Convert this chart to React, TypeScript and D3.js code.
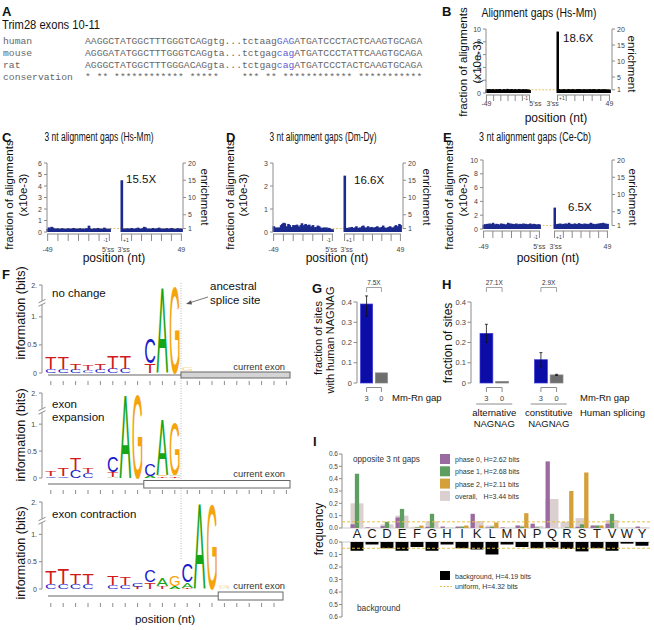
import React, { useEffect, useRef } from 'react';
import * as d3 from 'd3';

const SANS = 'Liberation Sans, Arial, Helvetica, sans-serif';
const MONO = 'Liberation Mono, DejaVu Sans Mono, monospace';

// ---- A: Trim28 exons 10-11 alignment
const species = ['human', 'mouse', 'rat', 'conservation'];
const seqHead = [
  'AAGGCTATGGCTTTGGGTCAGgtg...tctaag',
  'AGGGATATGGCTTTGGGTCAGgta...tctgag',
  'AGGGCTATGGCTTTGGGACAGgta...tctgag',
  '* ** ************ *****    *** **',
];
const seqSite = ['GAG', 'cag', 'cag', ' **'];
const seqTail = [
  'ATGATCCCTACTCAAGTGCAGA',
  'ATGATCCCTATTCAAGTGCAGA',
  'ATGATCCCTACTCAAGTGCAGA',
  '********** ***********',
];

// ---- B-E: gap fraction by position (-49..-1 then +1..+49), x10e-3
const hsMmLeft = [0.55, 0.6, 0.5, 0.62, 0.58, 0.5, 0.55, 0.6, 0.52, 0.48, 0.56, 0.6, 0.5, 0.54, 0.58, 0.62, 0.5, 0.46, 0.55, 0.6, 0.58, 0.52, 0.5, 0.64, 0.6, 0.55, 0.5, 0.58, 0.62, 0.52, 0.5, 0.56, 0.6, 0.54, 0.48, 0.55, 0.6, 0.58, 0.5, 0.52, 0.56, 0.6, 0.54, 0.5, 0.58, 0.55, 0.5, 0.52, 0.48];
const hsMmRight = [9.6, 0.6, 0.55, 0.5, 0.58, 0.52, 0.6, 0.55, 0.5, 0.56, 0.62, 0.54, 0.5, 0.58, 0.6, 0.52, 0.55, 0.5, 0.6, 0.56, 0.62, 0.58, 0.5, 0.54, 0.6, 0.55, 0.52, 0.58, 0.5, 0.56, 0.6, 0.54, 0.5, 0.62, 0.58, 0.55, 0.5, 0.56, 0.6, 0.52, 0.54, 0.58, 0.5, 0.6, 0.55, 0.52, 0.56, 0.5, 0.54];
const hsMm3Left = [0.28, 0.4, 0.3, 0.45, 0.38, 0.3, 0.25, 0.32, 0.28, 0.3, 0.26, 0.33, 0.3, 0.28, 0.25, 0.3, 0.32, 0.27, 0.3, 0.28, 0.35, 0.3, 0.26, 0.3, 0.28, 0.32, 0.3, 0.25, 0.3, 0.27, 0.33, 0.3, 0.55, 0.3, 0.28, 0.26, 0.32, 0.3, 0.28, 0.35, 0.3, 0.26, 0.3, 0.28, 0.38, 0.3, 0.27, 0.25, 0.3];
const hsMm3Right = [4.5, 0.28, 0.3, 0.25, 0.32, 0.3, 0.28, 0.3, 0.35, 0.3, 0.27, 0.3, 0.32, 0.38, 0.3, 0.28, 0.3, 0.33, 0.45, 0.4, 0.3, 0.28, 0.3, 0.26, 0.3, 0.35, 0.3, 0.28, 0.3, 0.32, 0.38, 0.3, 0.28, 0.3, 0.26, 0.3, 0.33, 0.3, 0.28, 0.3, 0.35, 0.3, 0.28, 0.25, 0.3, 0.32, 0.3, 0.28, 0.3];
const dmDy3Left = [0.25, 0.2, 0.15, 0.2, 0.18, 0.2, 0.3, 0.35, 0.4, 0.38, 0.2, 0.25, 0.35, 0.3, 0.2, 0.22, 0.3, 0.28, 0.3, 0.32, 0.25, 0.2, 0.3, 0.38, 0.25, 0.3, 0.35, 0.2, 0.3, 0.32, 0.2, 0.25, 0.3, 0.15, 0.22, 0.2, 0.28, 0.25, 0.2, 0.15, 0.18, 0.2, 0.15, 0.2, 0.12, 0.18, 0.15, 0.1, 0.12];
const dmDy3Right = [2.45, 0.15, 0.18, 0.12, 0.2, 0.15, 0.22, 0.18, 0.15, 0.2, 0.25, 0.18, 0.15, 0.2, 0.12, 0.25, 0.28, 0.2, 0.15, 0.2, 0.25, 0.2, 0.18, 0.22, 0.15, 0.2, 0.18, 0.22, 0.25, 0.2, 0.15, 0.2, 0.22, 0.28, 0.2, 0.18, 0.15, 0.2, 0.22, 0.25, 0.2, 0.18, 0.2, 0.25, 0.3, 0.22, 0.25, 0.35, 0.3];
const ceCb3Left = [0.6, 0.7, 0.6, 0.75, 0.7, 0.8, 0.65, 0.75, 0.9, 0.7, 0.6, 0.75, 0.7, 0.65, 0.6, 0.8, 0.7, 0.75, 0.65, 0.6, 0.7, 0.9, 0.75, 0.8, 0.7, 0.75, 0.65, 0.7, 0.8, 0.7, 0.6, 0.75, 0.7, 0.65, 0.8, 0.7, 0.75, 0.6, 0.7, 0.65, 0.8, 0.7, 0.6, 0.75, 0.7, 0.65, 0.6, 0.7, 0.65];
const ceCb3Right = [3.1, 0.7, 0.65, 0.75, 0.7, 0.8, 0.7, 0.65, 0.75, 0.7, 0.8, 0.75, 0.7, 0.9, 0.7, 0.75, 0.65, 0.7, 0.8, 0.75, 0.7, 0.65, 0.85, 0.7, 0.75, 0.7, 0.65, 0.8, 0.7, 0.75, 0.7, 0.65, 0.8, 0.9, 0.7, 0.75, 0.7, 0.65, 0.75, 0.7, 0.8, 0.75, 0.85, 0.7, 0.9, 0.75, 0.8, 0.7, 0.75];

// ---- F: sequence logos, one stack per column (bottom -> top), starting at column -11
const noChangeLogo: [string, number][][] = [
  [['C', 0.07], ['T', 0.22]], [['C', 0.07], ['T', 0.2]], [['C', 0.06], ['T', 0.12]], [['C', 0.05], ['T', 0.1]],
  [['C', 0.06], ['T', 0.11]], [['C', 0.08], ['T', 0.23]], [['C', 0.08], ['T', 0.24]], [],
  [['T', 0.17], ['C', 0.45]], [['A', 1.97]], [['G', 2]], [['A', 0.03], ['G', 0.06]],
];
const expansionLogo: [string, number][][] = [
  [['C', 0.03], ['T', 0.1]], [['C', 0.03], ['T', 0.14]], [['C', 0.14], ['T', 0.22]], [['C', 0.1], ['T', 0.09]],
  [], [['A', 0.02], ['T', 0.1], ['C', 0.3]], [['A', 2]], [['G', 1.97]],
  [['A', 0.04], ['C', 0.22]], [['T', 0.03], ['G', 0.02], ['A', 1.05]], [['T', 0.03], ['A', 0.02], ['G', 0.98]],
];
const contractionLogo: [string, number][][] = [
  [['C', 0.1], ['T', 0.25]], [['C', 0.1], ['T', 0.3]], [['C', 0.09], ['T', 0.2]], [['C', 0.09], ['T', 0.18]],
  [], [['C', 0.08], ['T', 0.17]], [['C', 0.07], ['T', 0.14]], [['T', 0.04], ['C', 0.06]],
  [['T', 0.12], ['C', 0.22]], [['T', 0.05], ['A', 0.14]], [['A', 0.05], ['G', 0.18]],
  [['T', 0.02], ['A', 0.1], ['C', 0.35]], [['A', 2]], [['G', 2]], [['A', 0.02], ['G', 0.05]],
];

// ---- G, H: fraction of sites with human NAGNAG
const mmRnGap = ['3', '0'];
const nagnagAll = [0.39, 0.05];
const nagnagAllErr = [[0.33, 0.43], null];
const splicingTypes = ['alternative', 'constitutive'];
const nagnagAlt = [0.245, 0.008];
const nagnagAltErr = [[0.2, 0.29], null];
const nagnagConst = [0.115, 0.04];
const nagnagConstErr = [[0.08, 0.15], [0.037, 0.043]];
const foldG = ['7.5X'];
const foldH = ['27.1X', '2.9X'];

// ---- I: amino acid frequencies opposite 3 nt gaps
const aminoAcids = ['A', 'C', 'D', 'E', 'F', 'G', 'H', 'I', 'K', 'L', 'M', 'N', 'P', 'Q', 'R', 'S', 'T', 'V', 'W', 'Y'];
const phase0 = [0.03, 0.005, 0.015, 0.085, 0, 0.01, 0.012, 0.01, 0.115, 0.005, 0.005, 0.02, 0.035, 0.54, 0, 0.01, 0.02, 0.035, 0, 0.012];
const phase1 = [0.44, 0, 0.05, 0.155, 0.005, 0.115, 0, 0.01, 0, 0.01, 0, 0.01, 0.005, 0, 0.005, 0.03, 0.02, 0.115, 0, 0];
const phase2 = [0, 0, 0, 0, 0.02, 0, 0, 0.02, 0.02, 0.045, 0, 0.12, 0, 0, 0.3, 0.45, 0.02, 0, 0, 0];
const overall = [0.2, 0.005, 0.03, 0.1, 0.01, 0.055, 0.005, 0.015, 0.055, 0.02, 0.003, 0.02, 0.015, 0.235, 0.05, 0.08, 0.02, 0.065, 0.002, 0.005];
const background = [0.07, 0.02, 0.05, 0.07, 0.04, 0.07, 0.02, 0.05, 0.06, 0.1, 0.02, 0.04, 0.05, 0.045, 0.055, 0.075, 0.05, 0.07, 0.013, 0.03];
const uniformFreq = 0.05;
const phaseLegend = ['phase 0, H=2.62 bits', 'phase 1, H=2.68 bits', 'phase 2, H=2.11 bits', 'overall,   H=3.44 bits'];

const AX = '#8c8c8c';
const TICK = '#444';

function txt(g: any, x: number, y: number, s: string, size: number, o: any = {}) {
  const t = g.append('text')
    .attr('x', x).attr('y', y)
    .attr('font-family', o.mono ? MONO : SANS)
    .attr('font-size', size)
    .attr('fill', o.fill || '#111')
    .attr('text-anchor', o.anchor || 'start')
    .style('white-space', 'pre')
    .text(s);
  if (o.bold) t.attr('font-weight', 'bold');
  if (o.w) t.attr('textLength', o.w).attr('lengthAdjust', 'spacingAndGlyphs');
  if (o.rot) t.attr('transform', `rotate(${o.rot},${x},${y})`).attr('dominant-baseline', 'central');
  return t;
}

function line(g: any, x1: number, y1: number, x2: number, y2: number, stroke = AX, w = 1) {
  return g.append('line').attr('x1', x1).attr('y1', y1).attr('x2', x2).attr('y2', y2)
    .attr('stroke', stroke).attr('stroke-width', w);
}

function drawA(svg: any) {
  txt(svg, 2, 16, 'A', 13, { bold: true });
  txt(svg, 2, 29, 'Trim28 exons 10-11', 12, { w: 98 });
  species.forEach((sp, i) => {
    const yy = 44 + i * 12;
    txt(svg, 3, yy, sp, 9.7, { mono: true, fill: '#666' });
    const t = txt(svg, 85, yy, '', 9.7, { mono: true, fill: '#666' });
    t.append('tspan').text(seqHead[i]);
    t.append('tspan').attr('fill', i < 3 ? '#5b5bd6' : '#666').text(seqSite[i]);
    t.append('tspan').text(seqTail[i]);
  });
}

// layout of the four gap panels
const gapLayouts = [
  { ax: 486, rx: 612, xl: [486, 530], xr: [557, 610], y0: 93, yTop: 29, ymax: 10, ticks: [0, 2, 4, 6, 8, 10], base: 0.5, color: '#000',
    title: 'Alignment gaps (Hs-Mm)', titleX: 539, titleY: 17, titleW: 115, letter: 'B', lx: 442, ly: 16,
    spike: '18.6X', sx: 563, sy: 42, ylx: [463, 477], yly: 62, enx: 632, axisY: 95, tickLen: 6, labY: 106, tinyY: 100, ss: 12, posX: 556, posY: 122 },
  { ax: 47, rx: 183, xl: [47, 110], xr: [121, 182], y0: 232, yTop: 163, ymax: 6, ticks: [0, 1, 2, 3, 4, 5, 6], base: 0.3, color: '#1b2a8c',
    title: '3 nt alignment gaps (Hs-Mm)', titleX: 99, titleY: 141, titleW: 109, letter: 'C', lx: 2, ly: 142,
    spike: '15.5X', sx: 126, sy: 183, ylx: [9, 23], yly: 195, enx: 205, axisY: 234, tickLen: 7, labY: 252, tinyY: 242, ss: 5, posX: 114, posY: 262 },
  { ax: 273, rx: 403, xl: [273, 333], xr: [344, 401], y0: 232, yTop: 163, ymax: 3, ticks: [0, 1, 2, 3], base: 0.15, color: '#1b2a8c',
    title: '3 nt alignment gaps (Dm-Dy)', titleX: 323, titleY: 141, titleW: 107, letter: 'D', lx: 226, ly: 142,
    spike: '16.6X', sx: 354, sy: 184, ylx: [230, 243], yly: 195, enx: 427, axisY: 234, tickLen: 7, labY: 252, tinyY: 242, ss: 5, posX: 337, posY: 262 },
  { ax: 483, rx: 612, xl: [483, 540], xr: [554, 608], y0: 229, yTop: 160, ymax: 10, ticks: [0, 2, 4, 6, 8, 10], base: 0.5, color: '#1b2a8c',
    title: '3 nt alignment gaps (Ce-Cb)', titleX: 535, titleY: 141, titleW: 112, letter: 'E', lx: 443, ly: 142,
    spike: '6.5X', sx: 568, sy: 211, ylx: [449, 463], yly: 195, enx: 633, axisY: 231, tickLen: 7, labY: 249, tinyY: 239, ss: 6, posX: 548, posY: 262 },
];

function drawGap(svg: any, c: any, left: number[], right: number[]) {
  const g = svg.append('g');
  const y = d3.scaleLinear().domain([0, c.ymax]).range([c.y0, c.yTop]);
  const xl = d3.scaleBand<number>().domain(d3.range(-49, 0)).range(c.xl);
  const xr = d3.scaleBand<number>().domain(d3.range(1, 50)).range(c.xr);
  const mid = (s: any, p: number) => s(p) + s.bandwidth() / 2;

  // enrichment = 1 level
  line(g, c.xl[0], y(c.base), c.xr[1], y(c.base), '#eac26a', 1).attr('stroke-dasharray', '2,1.5');

  // bars are drawn a little wider than their slot, as in the printed figure
  const bars = left.map((v, i) => ({ x: xl(-49 + i), w: xl.bandwidth(), v }))
    .concat(right.map((v, i) => ({ x: xr(i + 1), w: xr.bandwidth(), v })));
  g.selectAll(null).data(bars).enter().append('rect')
    .attr('x', (d: any) => d.x - 0.5).attr('y', (d: any) => y(d.v))
    .attr('width', (d: any) => d.w + 1.4).attr('height', (d: any) => c.y0 - y(d.v))
    .attr('fill', c.color);

  // left axis
  line(g, c.ax, y(0), c.ax, y(c.ymax));
  c.ticks.forEach((t: number) => {
    line(g, c.ax - 3, y(t), c.ax, y(t));
    txt(g, c.ax - 5, y(t) + 2.5, String(t), 7, { anchor: 'end', fill: TICK });
  });
  // right axis (enrichment)
  const ye = (e: number) => y(e * c.base);
  line(g, c.rx, ye(1), c.rx, ye(20));
  [1, 5, 10, 15, 20].forEach((e) => {
    line(g, c.rx, ye(e), c.rx + 3, ye(e));
    txt(g, c.rx + 5, ye(e) + 2.5, String(e), 7, { fill: TICK });
  });
  // position axes
  line(g, c.xl[0], c.axisY, c.xl[1], c.axisY);
  line(g, c.xr[0], c.axisY, c.xr[1], c.axisY);
  [-49, -41, -33, -25, -17, -9, -1].forEach((p) => line(g, mid(xl, p), c.axisY, mid(xl, p), c.axisY + c.tickLen));
  [1, 9, 17, 25, 33, 41, 49].forEach((p) => line(g, mid(xr, p), c.axisY, mid(xr, p), c.axisY + c.tickLen));
  txt(g, mid(xl, -49), c.labY, '-49', 7, { anchor: 'middle', fill: TICK });
  txt(g, mid(xr, 49), c.labY, '49', 7, { anchor: 'middle', fill: TICK });
  txt(g, mid(xl, -1) + c.ss, c.labY, "5'ss", 7, { anchor: 'end', fill: TICK });
  txt(g, mid(xr, 1) - c.ss + 1, c.labY, "3'ss", 7, { fill: TICK });
  txt(g, mid(xl, -1) - 1.5, c.tinyY, '-1', 5, { anchor: 'end', fill: TICK });
  txt(g, mid(xr, 1) + 1.5, c.tinyY, '+1', 5, { fill: TICK });

  txt(g, c.posX, c.posY, 'position (nt)', 12, { anchor: 'middle' });
  txt(g, c.ylx[0], c.yly, 'fraction of alignments', 11.5, { anchor: 'middle', rot: -90 });
  txt(g, c.ylx[1], c.yly, '(x10e-3)', 11.5, { anchor: 'middle', rot: -90 });
  txt(g, c.enx, c.yly + 2, 'enrichment', 11.5, { anchor: 'middle', rot: 90 });
  txt(g, c.titleX, c.titleY, c.title, 12, { anchor: 'middle', w: c.titleW });
  txt(g, c.lx, c.ly, c.letter, 13, { bold: true });
  txt(g, c.sx, c.sy, c.spike, 11.5);
}

// ---- F
const baseColor: any = { A: '#16a516', C: '#1a1acb', G: '#f5a40c', T: '#d21a1a' };
const glyphAdv: any = { A: 0.667, C: 0.722, G: 0.778, T: 0.611 };
const COLW = 12.4;
const SPLICE_X = 181;

const logoLayouts = [
  { y0: 373, yBreak: 300, y2: 285, lineY: 375, boxTop: 372, boxBot: 378, exonCol: 0, boxEnd: 290, boxFill: '#d4d4d4', textY: 370, tickY: 381, yly: 313, fadeFrom: 0 },
  { y0: 478, yBreak: 408, y2: 393, lineY: 484, boxTop: 480.5, boxBot: 488, exonCol: -3, boxEnd: 290, boxFill: '#fff', textY: 476.5, tickY: 490, yly: 435, fadeFrom: 99 },
  { y0: 589, yBreak: 518, y2: 502, lineY: 596, boxTop: 592, boxBot: 600, exonCol: 3, boxEnd: 283, boxFill: '#fff', textY: 589, tickY: 603, yly: 553, fadeFrom: 3 },
];

function drawLetter(g: any, ch: string, x0: number, w: number, yb: number, h: number, op: number) {
  if (h < 0.4) return;
  const fs = 100;
  g.append('text')
    .attr('font-family', SANS).attr('font-size', fs).attr('fill', baseColor[ch]).attr('opacity', op)
    .attr('transform', `translate(${x0},${yb}) scale(${w / (glyphAdv[ch] * fs)},${h / (0.716 * fs)})`)
    .text(ch);
}

function drawLogo(svg: any, L: any, stacks: [string, number][][]) {
  const g = svg.append('g');
  const ys = d3.scaleLinear().domain([0, 1.3, 2]).range([L.y0, L.yBreak, L.y2]);
  const colX = (c: number) => SPLICE_X + c * COLW;

  // y axis with break
  line(g, 42, ys(0), 42, ys(2));
  ([[0, '0'], [0.5, '0.5'], [1, '1.'], [2, '2.']] as [number, string][]).forEach(([v, s]) => {
    line(g, 39, ys(v), 42, ys(v));
    txt(g, 37, ys(v) + 2.5, s, 7, { anchor: 'end', fill: TICK });
  });
  const yb = ys(1.25);
  g.append('rect').attr('x', 39).attr('y', yb - 2).attr('width', 6).attr('height', 4).attr('fill', '#fff');
  line(g, 38.5, yb, 45.5, yb - 3.5);
  line(g, 38.5, yb + 3.5, 45.5, yb);

  // letters
  stacks.forEach((stack, k) => {
    const col = -11 + k;
    let cum = 0;
    stack.forEach(([ch, v]) => {
      const b = ys(cum), t = ys(cum + v);
      drawLetter(g, ch, colX(col) + 0.4, COLW - 0.8, b, b - t, col >= L.fadeFrom ? 0.45 : 1);
      cum += v;
    });
  });

  // intron line and current exon
  const exX = colX(L.exonCol);
  line(g, 48, L.lineY, exX, L.lineY, '#666', 1.2);
  g.append('rect').attr('x', exX).attr('y', L.boxTop).attr('width', L.boxEnd - exX).attr('height', L.boxBot - L.boxTop)
    .attr('fill', L.boxFill).attr('stroke', '#666').attr('stroke-width', 1);
  txt(g, 285, L.textY, 'current exon', 9.3, { anchor: 'end', fill: '#333' });
  d3.range(-11, 9).forEach((c) => {
    const x = colX(c) + COLW / 2;
    if (x <= L.boxEnd + 3) line(g, x, L.tickY, x, L.tickY + 4);
  });
  txt(g, 21, L.yly, 'information (bits)', 12.5, { anchor: 'middle', rot: -90 });
}

function drawF(svg: any) {
  const g = svg.append('g');
  line(g, SPLICE_X, 283, SPLICE_X, 560, '#aaa', 0.8).attr('stroke-dasharray', '1,1.5');
  drawLogo(svg, logoLayouts[0], noChangeLogo);
  drawLogo(svg, logoLayouts[1], expansionLogo);
  drawLogo(svg, logoLayouts[2], contractionLogo);
  txt(svg, 2, 279, 'F', 13, { bold: true });
  txt(svg, 52, 297, 'no change', 11.5);
  txt(svg, 210, 290, 'ancestral', 11.5);
  txt(svg, 210, 304, 'splice site', 11.5);
  line(svg, 208, 297, 189, 303, '#555', 0.8);
  svg.append('path').attr('d', 'M186,304 L191,300.3 L192,304.5 Z').attr('fill', '#555');
  txt(svg, 52, 408, 'exon', 11.5);
  txt(svg, 52, 421, 'expansion', 11.5);
  txt(svg, 52, 518, 'exon contraction', 11.5);
  txt(svg, 165, 623, 'position (nt)', 11.5, { anchor: 'middle' });
}

// ---- G / H helpers
const BLUE = '#0c0ca6';
const GREY = '#6e6e6e';

function fracAxis(g: any, ax: number, y: any) {
  line(g, ax, y(0), ax, y(0.4));
  [0, 0.1, 0.2, 0.3, 0.4].forEach((t) => {
    line(g, ax - 3.5, y(t), ax, y(t));
    txt(g, ax - 5, y(t) + 2.5, t === 0 ? '0' : String(t), 7.5, { anchor: 'end', fill: TICK });
  });
}

function barPair(g: any, x: any, y: any, vals: number[], errs: any[], fold: string) {
  mmRnGap.forEach((k, i) => {
    const bx = x(k);
    g.append('rect').attr('x', bx).attr('y', y(vals[i])).attr('width', x.bandwidth()).attr('height', y(0) - y(vals[i]))
      .attr('fill', i === 0 ? BLUE : GREY).attr('stroke', i === 0 ? '#3a3ad8' : '#888').attr('stroke-width', 0.7);
    const e = errs[i];
    if (e) {
      const cx = bx + x.bandwidth() / 2;
      line(g, cx, y(e[0]), cx, y(e[1]), '#111', 0.8);
      line(g, cx - 1.5, y(e[1]), cx + 1.5, y(e[1]), '#111', 0.8);
      line(g, cx - 1.5, y(e[0]), cx + 1.5, y(e[0]), '#111', 0.8);
    }
  });
  const c0 = x('3') + x.bandwidth() / 2;
  const c1 = x('0') + x.bandwidth() / 2;
  // fold-change bracket
  g.append('path').attr('d', `M${c0},292 V287.5 H${c1} V292`).attr('fill', 'none').attr('stroke', AX).attr('stroke-width', 0.8);
  txt(g, (c0 + c1) / 2, 284.5, fold, 6.5, { anchor: 'middle', fill: '#333' });
  // category axis
  g.append('path').attr('d', `M${c0},392 V387.5 H${c1} V392`).attr('fill', 'none').attr('stroke', AX).attr('stroke-width', 1);
  mmRnGap.forEach((k) => txt(g, x(k) + x.bandwidth() / 2, 401, k, 7.5, { anchor: 'middle', fill: TICK }));
}

function drawG(svg: any) {
  const g = svg.append('g');
  const y = d3.scaleLinear().domain([0, 0.4]).range([383, 302]);
  const x = d3.scaleBand<string>().domain(mmRnGap).range([360.5, 387.5]).paddingInner(0.18);
  fracAxis(g, 357, y);
  barPair(g, x, y, nagnagAll, nagnagAllErr, foldG[0]);
  txt(g, 392, 401, 'Mm-Rn gap', 9.5);
  txt(g, 312, 293, 'G', 13, { bold: true });
  txt(g, 318, 338, 'fraction of sites', 11, { anchor: 'middle', rot: -90 });
  txt(g, 330, 340, 'with human NAGNAG', 11, { anchor: 'middle', rot: -90 });
}

function drawH(svg: any) {
  const g = svg.append('g');
  const y = d3.scaleLinear().domain([0, 0.4]).range([383, 302]);
  const outer = d3.scaleBand<string>().domain(splicingTypes).range([480, 563]).paddingInner(0.477);
  fracAxis(g, 471, y);
  const sets = [[nagnagAlt, nagnagAltErr], [nagnagConst, nagnagConstErr]];
  splicingTypes.forEach((st, i) => {
    const o = outer(st) as number;
    const x = d3.scaleBand<string>().domain(mmRnGap).range([o, o + outer.bandwidth()]).paddingInner(0.18);
    barPair(g, x, y, sets[i][0] as number[], sets[i][1] as any[], foldH[i]);
    const cx = o + outer.bandwidth() / 2;
    line(g, cx - 18, 404, cx + 18, 404);
    txt(g, cx, 416, st, 9.5, { anchor: 'middle' });
    txt(g, cx, 427, 'NAGNAG', 9.5, { anchor: 'middle' });
  });
  txt(g, 580, 401, 'Mm-Rn gap', 9.5);
  txt(g, 580, 416, 'Human splicing', 9.5);
  txt(g, 442, 289, 'H', 13, { bold: true });
  txt(g, 448, 343, 'fraction of sites', 12, { anchor: 'middle', rot: -90 });
}

// ---- I
const PHASE_COL = ['#9a6aa0', '#5e9e60', '#d4a03a'];
const OVERALL_COL = '#dccfcf';

function drawI(svg: any) {
  const g = svg.append('g');
  const yt = d3.scaleLinear().domain([0, 0.6]).range([528, 454]);
  const yb = d3.scaleLinear().domain([0, 0.6]).range([542, 617]);
  const x = d3.scaleBand<string>().domain(aminoAcids).range([349.5, 649.5]).paddingInner(0.14).paddingOuter(0.07);
  const sub = d3.scaleBand<number>().domain([0, 1, 2]).range([0, x.bandwidth()]);
  const phases = [phase0, phase1, phase2];

  [yt, yb].forEach((s) => {
    line(g, 342, s(0), 342, s(0.6));
    d3.range(0, 7).forEach((k) => {
      const v = k / 10;
      line(g, 339, s(v), 342, s(v));
      txt(g, 338, s(v) + 2.3, v.toFixed(1), 6.5, { anchor: 'end', fill: TICK });
    });
  });
  line(g, 342, yt(0), 650, yt(0), '#bbb', 0.8);
  line(g, 342, yb(0), 650, yb(0), '#bbb', 0.8);

  aminoAcids.forEach((a, i) => {
    const bx = x(a) as number;
    g.append('rect').attr('x', bx).attr('y', yt(overall[i])).attr('width', x.bandwidth())
      .attr('height', yt(0) - yt(overall[i])).attr('fill', OVERALL_COL);
    phases.forEach((ph, p) => {
      g.append('rect').attr('x', bx + (sub(p) as number)).attr('y', yt(ph[i])).attr('width', sub.bandwidth())
        .attr('height', yt(0) - yt(ph[i])).attr('fill', PHASE_COL[p]);
    });
    g.append('rect').attr('x', bx).attr('y', yb(0)).attr('width', x.bandwidth())
      .attr('height', yb(background[i]) - yb(0)).attr('fill', '#000');
    txt(g, bx + x.bandwidth() / 2, 537.5, a, 13, { anchor: 'middle', fill: '#1a1a1a' });
  });
  line(g, 342, yt(uniformFreq), 650, yt(uniformFreq), '#e6c040', 1).attr('stroke-dasharray', '3,2');
  line(g, 342, yb(uniformFreq), 650, yb(uniformFreq), '#e6c040', 1).attr('stroke-dasharray', '3,2');

  txt(g, 353, 462, 'opposite 3 nt gaps', 8.2, { fill: '#333' });
  phaseLegend.forEach((s, i) => {
    g.append('rect').attr('x', 440).attr('y', 454 + i * 12.3).attr('width', 10).attr('height', 10)
      .attr('fill', i < 3 ? PHASE_COL[i] : OVERALL_COL);
    txt(g, 455, 462 + i * 12.3, s, 7, { fill: '#333' });
  });
  g.append('rect').attr('x', 440).attr('y', 571).attr('width', 10).attr('height', 9).attr('fill', '#000');
  txt(g, 455, 578.5, 'background, H=4.19 bits', 7, { fill: '#333' });
  line(g, 440, 586.5, 452, 586.5, '#e6c040', 1.2).attr('stroke-dasharray', '2,1.5');
  txt(g, 455, 589, 'uniform, H=4.32 bits', 7, { fill: '#333' });
  txt(g, 357, 611, 'background', 8.3, { fill: '#333' });
  txt(g, 313, 446, 'I', 13, { bold: true });
  txt(g, 319, 529, 'frequency', 12, { anchor: 'middle', rot: -90 });
}

const gapData = [[hsMmLeft, hsMmRight], [hsMm3Left, hsMm3Right], [dmDy3Left, dmDy3Right], [ceCb3Left, ceCb3Right]];

export default function App() {
  const ref = useRef<SVGSVGElement>(null);
  useEffect(() => {
    if (!ref.current) return;
    const svg = d3.select(ref.current);
    svg.selectAll('*').remove();
    drawA(svg);
    gapLayouts.forEach((c, i) => drawGap(svg, c, gapData[i][0], gapData[i][1]));
    drawF(svg);
    drawG(svg);
    drawH(svg);
    drawI(svg);
  }, []);
  return (
    <svg ref={ref} width={654} height={630} viewBox="0 0 654 630"
      style={{ position: 'absolute', left: 0, top: 0, background: '#fff' }} />
  );
}
